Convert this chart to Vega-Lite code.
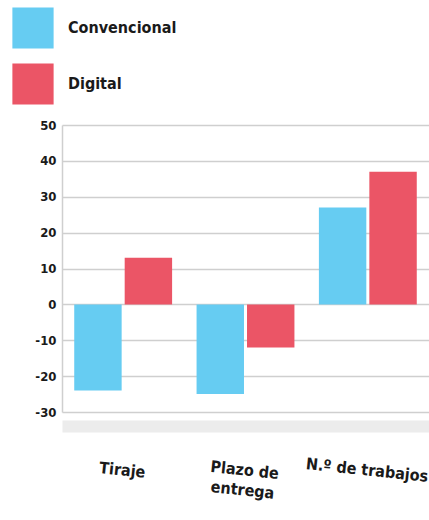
{
  "$schema": "https://vega.github.io/schema/vega-lite/v6.json",
  "autosize": {"type": "none"},
  "width": 367,
  "height": 287,
  "padding": {"left": 62, "top": 125, "right": 0, "bottom": 108},
  "background": "white",
  "config": {
    "view": {"stroke": null},
    "font": "DejaVu Sans Condensed"
  },
  "data": {
    "values": [
      {"categoria": "Tiraje", "sistema": "Convencional", "valor": -24},
      {"categoria": "Tiraje", "sistema": "Digital", "valor": 13},
      {"categoria": "Plazo de entrega", "sistema": "Convencional", "valor": -25},
      {"categoria": "Plazo de entrega", "sistema": "Digital", "valor": -12},
      {"categoria": "N.º de trabajos", "sistema": "Convencional", "valor": 27},
      {"categoria": "N.º de trabajos", "sistema": "Digital", "valor": 37}
    ]
  },
  "mark": {"type": "bar"},
  "encoding": {
    "x": {
      "field": "categoria",
      "type": "nominal",
      "sort": ["Tiraje", "Plazo de entrega", "N.º de trabajos"],
      "scale": {"paddingInner": 0.2, "paddingOuter": 0.1},
      "axis": {
        "title": null,
        "labelAngle": 6,
        "labelAlign": "center",
        "labelExpr": "datum.value == 'Plazo de entrega' ? ['Plazo de', 'entrega'] : datum.value",
        "labelFont": "DejaVu Sans Condensed",
        "labelFontWeight": "bold",
        "labelFontSize": 16,
        "labelColor": "#1a1a1a",
        "labelPadding": 36,
        "labelLineHeight": 20,
        "ticks": false,
        "domain": true,
        "domainColor": "#ececec",
        "domainWidth": 12,
        "offset": 14
      }
    },
    "xOffset": {
      "field": "sistema",
      "type": "nominal",
      "scale": {"paddingInner": 0.06}
    },
    "y": {
      "field": "valor",
      "type": "quantitative",
      "scale": {"domain": [-30, 50], "nice": false},
      "axis": {
        "title": null,
        "values": [-30, -20, -10, 0, 10, 20, 30, 40, 50],
        "labelExpr": "replace(datum.label, '\u2212', '-')",
        "labelFont": "DejaVu Sans Condensed",
        "labelFontWeight": "bold",
        "labelFontSize": 13,
        "labelColor": "#1a1a1a",
        "labelPadding": 6,
        "ticks": false,
        "domainColor": "#cfcfcf",
        "domainWidth": 1.5,
        "gridColor": "#cfcfcf",
        "gridWidth": 1.5
      }
    },
    "color": {
      "field": "sistema",
      "type": "nominal",
      "scale": {"domain": ["Convencional", "Digital"], "range": ["#66CCF2", "#EB5566"]},
      "legend": {
        "title": null,
        "orient": "none",
        "legendX": -50,
        "legendY": -118,
        "direction": "vertical",
        "symbolType": "square",
        "symbolSize": 1700,
        "symbolStrokeWidth": 0,
        "symbolOpacity": 1,
        "rowPadding": 14,
        "labelOffset": 14,
        "labelFont": "DejaVu Sans Condensed",
        "labelFontWeight": "bold",
        "labelFontSize": 16,
        "labelColor": "#1a1a1a"
      }
    }
  }
}
